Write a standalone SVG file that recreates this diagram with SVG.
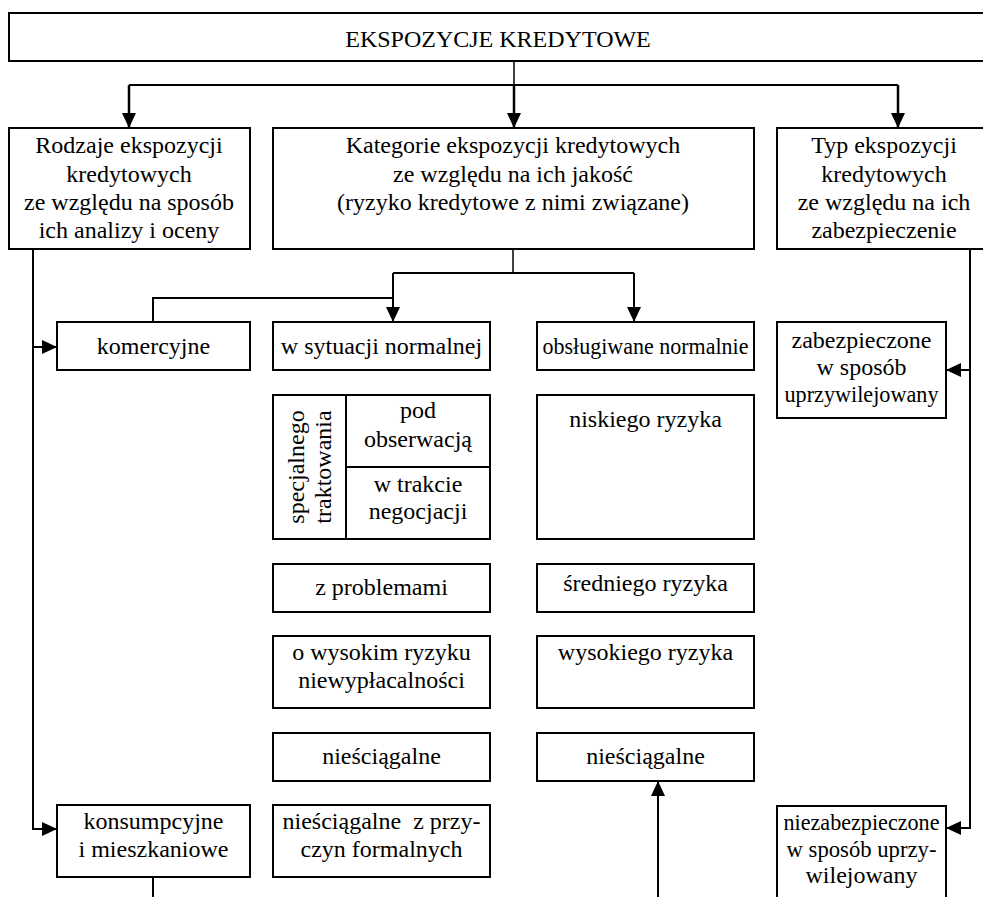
<svg xmlns="http://www.w3.org/2000/svg" width="983" height="897" viewBox="0 0 983 897">
<style>
.box{fill:#fff;stroke:#000;stroke-width:2}
.t{font-family:'Liberation Serif','DejaVu Serif',serif;font-size:24px;fill:#000;text-anchor:middle}
.ln{fill:none;stroke:#000;stroke-width:2}
.thin{stroke-width:1.5}
.thick{stroke-width:2.5}
</style>
<defs>
<marker id="ah" viewBox="0 0 15 14" refX="15" refY="7" markerWidth="15" markerHeight="14" markerUnits="userSpaceOnUse" orient="auto">
<path d="M0,0 L15,7 L0,14 z" fill="#000"/>
</marker>
</defs>
<rect width="983" height="897" fill="#fff"/>

<g id="connectors">
<path class="ln thin" d="M514,61 V85"/>
<path class="ln" d="M129,85 H898"/>
<path class="ln thick" d="M514,85 V128" marker-end="url(#ah)"/>
<path class="ln thick" d="M129,85 V128" marker-end="url(#ah)"/>
<path class="ln thick" d="M898,85 V128" marker-end="url(#ah)"/>
<path class="ln" d="M33,249 V829 H57" marker-end="url(#ah)"/>
<path class="ln" d="M33,347 H57" marker-end="url(#ah)"/>
<path class="ln thin" d="M513,249 V273"/>
<path class="ln" d="M393,273 H634"/>
<path class="ln" d="M393,273 V322" marker-end="url(#ah)"/>
<path class="ln" d="M634,273 V322" marker-end="url(#ah)"/>
<path class="ln" d="M153,322 V298 H393"/>
<path class="ln" d="M153,877 V897"/>
<path class="ln" d="M970,249 V828 H946" marker-end="url(#ah)"/>
<path class="ln" d="M970,370 H946" marker-end="url(#ah)"/>
<path class="ln" stroke-width="3" d="M658,897 V781" marker-end="url(#ah)"/>
</g>

<g id="ekspozycje">
<rect class="box" x="9" y="13" width="1000" height="48"/>
<text class="t" x="498" y="47">EKSPOZYCJE KREDYTOWE</text>
</g>

<g id="rodzaje">
<rect class="box" x="9" y="128" width="241" height="121"/>
<text class="t" x="129" y="153">Rodzaje ekspozycji</text>
<text class="t" x="129" y="182">kredytowych</text>
<text class="t" x="129" y="210">ze względu na sposób</text>
<text class="t" x="129" y="238">ich analizy i oceny</text>
</g>

<g id="kategorie">
<rect class="box" x="273" y="128" width="481" height="121"/>
<text class="t" x="513" y="153">Kategorie ekspozycji kredytowych</text>
<text class="t" x="513" y="182">ze względu na ich jakość</text>
<text class="t" x="513" y="210">(ryzyko kredytowe z nimi związane)</text>
</g>

<g id="typ">
<rect class="box" x="777" y="128" width="230" height="121"/>
<text class="t" x="884" y="153">Typ ekspozycji</text>
<text class="t" x="884" y="182">kredytowych</text>
<text class="t" x="884" y="210">ze względu na ich</text>
<text class="t" x="884" y="238">zabezpieczenie</text>
</g>

<g id="komercyjne">
<rect class="box" x="57" y="322" width="193" height="48"/>
<text class="t" x="153.5" y="354">komercyjne</text>
</g>

<g id="konsumpcyjne">
<rect class="box" x="57" y="805" width="193" height="72"/>
<text class="t" x="153.5" y="829">konsumpcyjne</text>
<text class="t" x="153.5" y="857">i mieszkaniowe</text>
</g>

<g id="sytuacja-normalna">
<rect class="box" x="273" y="322" width="217" height="48"/>
<text class="t" x="381.5" y="354">w sytuacji normalnej</text>
</g>

<g id="specjalnego-traktowania">
<rect class="box" x="273" y="395" width="217" height="144"/>
<path class="ln" d="M346,395 V539 M346,467 H490"/>
<text class="t" transform="translate(304,467) rotate(-90)">specjalnego</text>
<text class="t" transform="translate(331,467) rotate(-90)">traktowania</text>
<text class="t" x="418" y="418">pod</text>
<text class="t" x="418" y="447">obserwacją</text>
<text class="t" x="418" y="492">w trakcie</text>
<text class="t" x="418" y="519">negocjacji</text>
</g>

<g id="z-problemami">
<rect class="box" x="273" y="564" width="217" height="48"/>
<text class="t" x="381.5" y="595">z problemami</text>
</g>

<g id="wysokie-ryzyko-niewyplacalnosci">
<rect class="box" x="273" y="636" width="217" height="72"/>
<text class="t" x="381.5" y="660">o wysokim ryzyku</text>
<text class="t" x="381.5" y="688">niewypłacalności</text>
</g>

<g id="niesciagalne-l">
<rect class="box" x="273" y="733" width="217" height="48"/>
<text class="t" x="381.5" y="764">nieściągalne</text>
</g>

<g id="niesciagalne-formalne">
<rect class="box" x="273" y="805" width="217" height="72"/>
<text class="t" x="381.5" y="829" xml:space="preserve">nieściągalne  z przy-</text>
<text class="t" x="381.5" y="857">czyn formalnych</text>
</g>

<g id="obslugiwane-normalnie">
<rect class="box" x="537" y="322" width="217" height="48"/>
<text class="t" x="645.5" y="354" textLength="206" lengthAdjust="spacingAndGlyphs">obsługiwane normalnie</text>
</g>

<g id="niskiego-ryzyka">
<rect class="box" x="537" y="395" width="217" height="144"/>
<text class="t" x="645.5" y="427">niskiego ryzyka</text>
</g>

<g id="sredniego-ryzyka">
<rect class="box" x="537" y="564" width="217" height="48"/>
<text class="t" x="645.5" y="591">średniego ryzyka</text>
</g>

<g id="wysokiego-ryzyka">
<rect class="box" x="537" y="636" width="217" height="72"/>
<text class="t" x="645.5" y="660">wysokiego ryzyka</text>
</g>

<g id="niesciagalne-r">
<rect class="box" x="537" y="733" width="217" height="48"/>
<text class="t" x="645.5" y="764">nieściągalne</text>
</g>

<g id="zabezpieczone">
<rect class="box" x="777" y="322" width="169" height="96"/>
<text class="t" x="861.5" y="348">zabezpieczone</text>
<text class="t" x="861.5" y="375">w sposób</text>
<text class="t" x="861.5" y="402" textLength="154" lengthAdjust="spacingAndGlyphs">uprzywilejowany</text>
</g>

<g id="niezabezpieczone">
<rect class="box" x="777" y="806" width="169" height="110"/>
<text class="t" x="861.5" y="830" textLength="156" lengthAdjust="spacingAndGlyphs">niezabezpieczone</text>
<text class="t" x="861.5" y="857" textLength="150" lengthAdjust="spacingAndGlyphs">w sposób uprzy-</text>
<text class="t" x="861.5" y="883">wilejowany</text>
</g>
</svg>
